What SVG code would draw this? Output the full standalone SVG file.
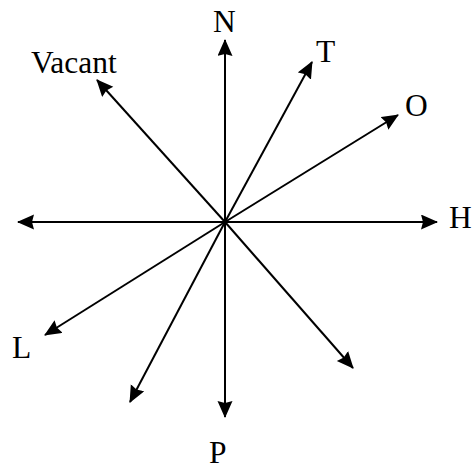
<svg xmlns="http://www.w3.org/2000/svg" width="474" height="469" viewBox="0 0 474 469">
<style>
.lbl{font-family:"Liberation Serif","Times New Roman",serif;font-size:31.5px;fill:#000}
.ar{stroke:#000;stroke-width:2;fill:none;marker-end:url(#ah)}
</style>
<defs>
<marker id="ah" markerUnits="userSpaceOnUse" markerWidth="18" markerHeight="16" refX="16" refY="7.5" orient="auto">
<path d="M0,0 L17,7.5 L0,15 L2,7.5 z" fill="#000"/>
</marker>
</defs>
<rect width="474" height="469" fill="#fff"/>
<g id="connectors">
<line class="ar" x1="225" y1="222" x2="225" y2="40"/>
<line class="ar" x1="225" y1="222" x2="312" y2="62"/>
<line class="ar" x1="225" y1="222" x2="398" y2="115"/>
<line class="ar" x1="225" y1="222" x2="437" y2="222"/>
<line class="ar" x1="225" y1="222" x2="353" y2="368"/>
<line class="ar" x1="225" y1="222" x2="225" y2="417"/>
<line class="ar" x1="225" y1="222" x2="130" y2="402"/>
<line class="ar" x1="225" y1="222" x2="45" y2="335"/>
<line class="ar" x1="225" y1="222" x2="18" y2="222"/>
<line class="ar" x1="225" y1="222" x2="97" y2="80"/>
</g>
<g id="N"><text class="lbl" x="213" y="32">N</text></g>
<g id="T"><text class="lbl" x="316" y="62">T</text></g>
<g id="O"><text class="lbl" x="405" y="116">O</text></g>
<g id="H"><text class="lbl" x="449" y="228">H</text></g>
<g id="L"><text class="lbl" x="12" y="358">L</text></g>
<g id="P"><text class="lbl" x="209" y="463">P</text></g>
<g id="Vacant"><text class="lbl" x="31" y="73">Vacant</text></g>
</svg>
